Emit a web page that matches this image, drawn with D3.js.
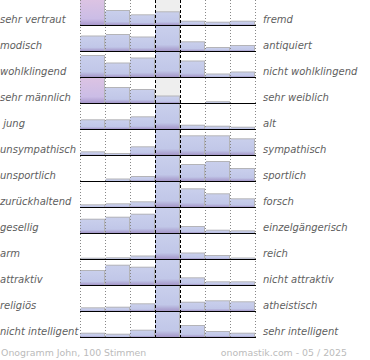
<!DOCTYPE html>
<html><head><meta charset="utf-8">
<script src="https://cdn.jsdelivr.net/npm/d3@7"></script>
<style>body{margin:0;background:#fff}svg{display:block}</style>
</head><body>
<script>
const leftLabels = ["sehr vertraut","modisch","wohlklingend","sehr männlich"," jung","unsympathisch","unsportlich","zurückhaltend","gesellig","arm","attraktiv","religiös","nicht intelligent"];
const rightLabels = ["fremd","antiquiert","nicht wohlklingend","sehr weiblich","alt","sympathisch","sportlich","forsch","einzelgängerisch","reich","nicht attraktiv","atheistisch","sehr intelligent"];
const bins = [1,2,3,4,5,6,7];
const row01 = [40, 14, 9.7, 12.7, 3.3, 2.3, 3.3];
const row02 = [14.5, 16, 13.5, 39, 8.7, 3, 5];
const row03 = [21, 13.5, 18.5, 26, 15.5, 2.5, 4.5];
const row04 = [40, 15, 13, 6.5, 0, 0.8, 0];
const row05 = [8.7, 8.7, 11.7, 60, 3.3, 2.3, 1.3];
const row06 = [2.7, 1, 7.7, 40, 18.7, 18.7, 15.7];
const row07 = [0, 1.5, 4, 40, 16, 19, 12];
const row08 = [1.7, 2.7, 4.7, 50, 17.7, 12.7, 7.7];
const row09 = [13.3, 15.3, 18.3, 40, 6, 2.3, 1.7];
const row10 = [0.3, 0.7, 2.5, 80, 5.5, 3, 0.5];
const row11 = [14, 19.3, 17.3, 40, 6.7, 2.7, 2.7];
const row12 = [2.7, 3.3, 6.7, 60, 8.3, 9.7, 8.7];
const row13 = [3.3, 2.3, 6.3, 60, 11, 5, 3.3];
const rows = [row01,row02,row03,row04,row05,row06,row07,row08,row09,row10,row11,row12,row13];
const footerLeft = "Onogramm John, 100 Stimmen";
const footerRight = "onomastik.com - 05 / 2025";

const W = 370, H = 360;
const svg = d3.select("body").append("svg").attr("width", W).attr("height", H);
const defs = svg.append("defs");
const gb = defs.append("linearGradient").attr("id","gBlue").attr("x1",0).attr("y1",0).attr("x2",0).attr("y2",1);
gb.append("stop").attr("offset","0%").attr("stop-color","#c9cfec");
gb.append("stop").attr("offset","75%").attr("stop-color","#c1c7e8");
gb.append("stop").attr("offset","100%").attr("stop-color","#a496c8");
const gp = defs.append("linearGradient").attr("id","gPink").attr("x1",0).attr("y1",0).attr("x2",0).attr("y2",1);
gp.append("stop").attr("offset","0%").attr("stop-color","#dcc3e3");
gp.append("stop").attr("offset","75%").attr("stop-color","#cbbde6");
gp.append("stop").attr("offset","100%").attr("stop-color","#a898cc");

const x = d3.scaleBand().domain(bins).range([80, 255]).padding(0);
const rowY = d3.scaleBand().domain(d3.range(rows.length)).range([0, 26*rows.length]).padding(0);
const maxV = 25;
const h = d3.scaleLinear().domain([0, maxV]).range([0, 25]).clamp(true);
const baseOf = i => rowY(i) + 25;
const lastBase = baseOf(rows.length-1);

// middle column background
svg.append("rect").attr("x", x(4)).attr("y", 0).attr("width", x.bandwidth()).attr("height", lastBase).attr("fill", "#eeeeee");

// bars
rows.forEach((vals, i) => {
  const g = svg.append("g");
  const b = baseOf(i);
  vals.forEach((v, j) => {
    if (v <= 0) return;
    const bh = h(v);
    const bx = x(bins[j]);
    const bw = x.bandwidth();
    g.append("rect").attr("x", bx + 1).attr("y", b - bh - 1).attr("width", bw - 1).attr("height", bh + 1).attr("fill", "#b4b4b8");
    const over = v > maxV && j !== 3;
    g.append("rect").attr("x", bx).attr("y", b - bh).attr("width", bw - 1).attr("height", bh)
      .attr("fill", over ? "url(#gPink)" : "url(#gBlue)");
  });
});

// grid lines
bins.concat([8]).forEach(k => {
  const xx = k === 8 ? x(7) + x.bandwidth() : x(k);
  const dashed = (k === 4 || k === 5);
  svg.append("line").attr("x1", xx + 0.5).attr("x2", xx + 0.5).attr("y1", 0).attr("y2", lastBase)
    .attr("stroke", dashed ? "#000" : "#888").attr("stroke-width", 1)
    .attr("stroke-dasharray", dashed ? "3,2" : "1,2");
});

// baselines
rows.forEach((vals, i) => {
  const b = baseOf(i);
  svg.append("line").attr("x1", 80).attr("x2", 256).attr("y1", b + 0.5).attr("y2", b + 0.5)
    .attr("stroke", "#000").attr("stroke-width", 1);
});

// labels
const font = "'DejaVu Sans', Verdana, sans-serif";
svg.append("g").selectAll("text").data(leftLabels).join("text")
  .attr("x", 0).attr("y", (d, i) => baseOf(i) - 2)
  .attr("font-family", font).attr("font-size", 10).attr("font-style", "italic")
  .attr("fill", "#606060").style("white-space", "pre")
  .text(d => d);
svg.append("g").selectAll("text").data(rightLabels).join("text")
  .attr("x", 263).attr("y", (d, i) => baseOf(i) - 2)
  .attr("font-family", font).attr("font-size", 10).attr("font-style", "italic")
  .attr("fill", "#606060").text(d => d);

svg.append("text").attr("x", 1).attr("y", 356).attr("font-family", font).attr("font-size", 9.4)
  .attr("fill", "#bbb").text(footerLeft);
svg.append("text").attr("x", 347).attr("y", 356).attr("text-anchor", "end").attr("font-family", font).attr("font-size", 9.4)
  .attr("fill", "#bbb").text(footerRight);
</script>
</body></html>
